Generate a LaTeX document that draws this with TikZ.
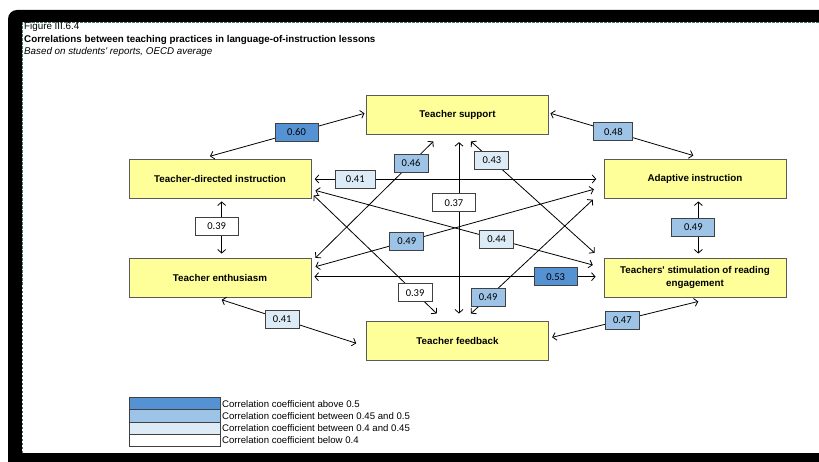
\documentclass[tikz,border=0pt]{standalone}
\usepackage{fontspec}
\setmainfont{Liberation Sans}
\newfontfamily\numfont{Carlito}
\usepackage{xcolor}
\usetikzlibrary{arrows.meta, positioning, calc}

\definecolor{boxyellow}{HTML}{FFFF99}
\definecolor{corrhigh}{HTML}{5592D3}
\definecolor{corrmid}{HTML}{9DC3E6}
\definecolor{corrlow}{HTML}{DDEBF7}
\definecolor{boxedge}{HTML}{5A5A5A}
\definecolor{frameline}{HTML}{3E7B5E}

\begin{document}
\begin{tikzpicture}[x=1pt, y=1pt,
    practice/.style={draw=boxedge, line width=0.9pt, fill=boxyellow, minimum width=182pt,
        minimum height=39pt, inner sep=1pt, align=center, font=\fontsize{9.8}{12.3}\selectfont\bfseries},
    coef/.style={draw=black!75, line width=0.8pt, minimum width=34pt, minimum height=18pt,
        inner sep=0pt, font=\numfont\fontsize{10.5}{11}\selectfont},
    coefwide/.style={coef, minimum width=43pt},
    link/.style={<->, >={Straight Barb[length=3.5pt, width=8pt]}, line width=0.8pt},
    legendtext/.style={anchor=west, inner sep=1pt, font=\fontsize{9.6}{10}\selectfont}
]
    \useasboundingbox (0,0) rectangle (819,461);

    % Frame
    \fill[black, rounded corners=9pt] (8,-20) rectangle (840,451);
    \fill[white] (22,8) rectangle (840,439);
    \draw[frameline, line width=0.9pt, dash pattern=on 2.5pt off 1.5pt] (22.5,8) -- (22.5,438.5) -- (819,438.5);

    % Heading
    \node[anchor=base west, inner sep=0pt, font=\fontsize{9.8}{11}\selectfont] (fig) at (24,431.5) {Figure III.6.4};
    \node[anchor=base west, inner sep=0pt, font=\fontsize{9.8}{11}\selectfont\bfseries] (title) at (24,418)
        {Correlations between teaching practices in language-of-instruction lessons};
    \node[anchor=base west, inner sep=0pt, font=\fontsize{9.8}{11}\selectfont\itshape] (sub) at (24,406.5)
        {Based on students\textquotesingle\ reports, OECD average};

    % Teaching practices
    \node[practice] (ts) at (457.5,346.5) {Teacher support};
    \node[practice] (tdi) at (220,282.5) {Teacher-directed instruction};
    \node[practice] (ai) at (695,282.5) {Adaptive instruction};
    \node[practice] (te) at (220,183.5) {Teacher enthusiasm};
    \node[practice] (tsre) at (695,183.5) {Teachers\textquotesingle\ stimulation of reading\\engagement};
    \node[practice] (tf) at (457.5,120.5) {Teacher feedback};

    % Correlations around the outside
    \draw[link] ([shift={(-10,2.3)}]tdi.north) -- node[coefwide, fill=corrhigh, pos=0.56] {0.60} ([shift={(-1.5,1.2)}]ts.west);
    \draw[link] ([shift={(1.5,1.2)}]ts.east) -- node[coef, fill=corrmid, minimum width=39pt, pos=0.44] {0.48} ([shift={(-1.7,3)}]ai.north);
    \draw[link] ([shift={(1.7,-3)}]tdi.south) -- node[coefwide, fill=white, xshift=-5pt, pos=0.47] {0.39} ([shift={(1.7,4)}]te.north);
    \draw[link] ([shift={(3.3,-3)}]ai.south) -- node[coefwide, fill=corrmid, xshift=-5pt, pos=0.5] {0.49} ([shift={(3.3,4)}]tsre.north);
    \draw[link] ([shift={(1.7,-2.3)}]te.south) -- node[coef, fill=corrlow, pos=0.45] {0.41} ([shift={(-9.8,-2.8)}]tf.west);
    \draw[link] ([shift={(3.3,-4)}]tsre.south) -- node[coef, fill=corrmid, pos=0.52] {0.47} ([shift={(3.2,3.2)}]tf.east);

    % Correlations across the middle
    \draw[link] ([shift={(3.3,-0.5)}]tdi.east) -- node[coef, fill=corrlow, minimum width=40pt, pos=0.144] {0.41} ([shift={(-7.3,-0.5)}]ai.west);
    \draw[link] ([shift={(3,0.8)}]te.east) -- node[coefwide, fill=corrhigh, pos=0.858] {0.53} ([shift={(-8,0.8)}]tsre.west);
    \draw[link] ([shift={(1.5,-7.7)}]ts.south) -- node[coefwide, fill=white, xshift=-5pt, pos=0.353] {0.37} ([shift={(1.5,7)}]tf.north);
    \draw[link] ([shift={(-24.2,-7)}]ts.south) -- node[coef, fill=corrmid, pos=0.189] {0.46} ([shift={(4,-0.3)}]te.north east);
    \draw[link] ([shift={(13.5,-7)}]ts.south) -- node[coef, fill=corrlow, pos=0.169] {0.43} ([shift={(-9,4.7)}]tsre.north west);
    \draw[link] ([shift={(4,8)}]tdi.south east) -- node[coef, fill=corrlow, pos=0.653] {0.44} ([shift={(-10.7,12.5)}]tsre.west);
    \draw[link] ([shift={(4,10.8)}]te.east) -- node[coef, fill=corrmid, pos=0.328] {0.49} ([shift={(-9.7,-10.8)}]ai.west);
    \draw[link] ([shift={(2.3,3)}]tdi.south east) -- node[coef, fill=white, pos=0.824] {0.39} ([shift={(-20.8,7)}]tf.north);
    \draw[link] ([shift={(-10.7,-1.3)}]ai.south west) -- node[coef, fill=corrmid, pos=0.86] {0.49} ([shift={(13.5,7)}]tf.north);

    % Legend
    \foreach \c/\t [count=\i] in {corrhigh/above 0.5, corrmid/between 0.45 and 0.5,
        corrlow/between 0.4 and 0.45, white/below 0.4} {
        \draw[fill=\c, draw=black!75, line width=0.8pt] (129,{63.5-(\i-1)*12.3}) rectangle (220,{51.2-(\i-1)*12.3});
        \node[legendtext] (leg\i) at (221,{57.35-(\i-1)*12.3}) {Correlation coefficient \t};
    }
\end{tikzpicture}
\end{document}
